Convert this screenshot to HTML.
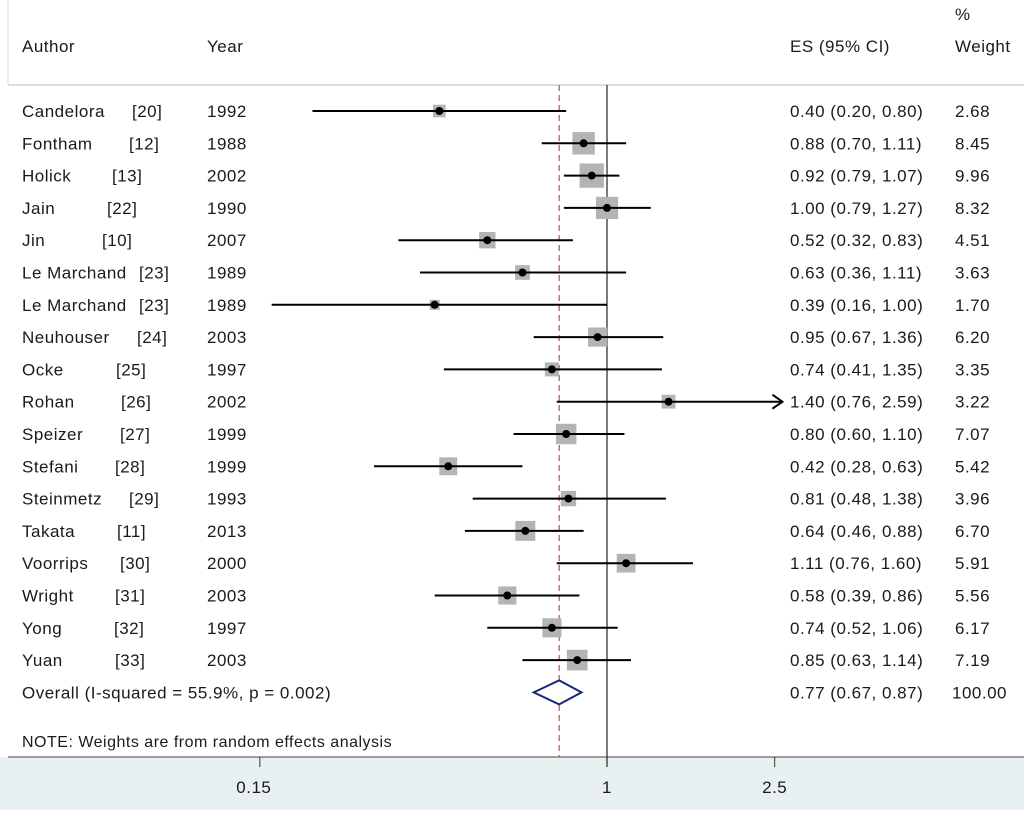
<!DOCTYPE html>
<html><head><meta charset="utf-8"><style>
body{margin:0;background:#fff;font-family:"Liberation Sans",Arial,sans-serif;}
svg text{font-family:"Liberation Sans",Arial,sans-serif;fill:#1a1a1a;letter-spacing:0.5px;}
</style></head><body>
<svg id="chart" width="1024" height="810" xmlns="http://www.w3.org/2000/svg">
<rect x="0" y="757" width="1024" height="53" fill="#e8f0f2"/>
<line x1="8" y1="85" x2="1024" y2="85" stroke="#bbb" stroke-width="1"/>
<line x1="8" y1="757" x2="1024" y2="757" stroke="#444" stroke-width="1"/>
<line x1="8" y1="0" x2="8" y2="85" stroke="#ddd" stroke-width="1"/>
<text x="22" y="52" font-size="17">Author</text>
<text x="207" y="52" font-size="17">Year</text>
<text x="790" y="52" font-size="17">ES (95% CI)</text>
<text x="955" y="20" font-size="17">%</text>
<text x="955" y="52" font-size="17">Weight</text>
<g id="marks"></g>
<text x="22" y="747" font-size="16">NOTE: Weights are from random effects analysis</text>
</svg>
<script>
const authors=["Candelora","Fontham","Holick","Jain","Jin","Le Marchand","Le Marchand","Neuhouser","Ocke","Rohan","Speizer","Stefani","Steinmetz","Takata","Voorrips","Wright","Yong","Yuan"];
const refs=["[20]","[12]","[13]","[22]","[10]","[23]","[23]","[24]","[25]","[26]","[27]","[28]","[29]","[11]","[30]","[31]","[32]","[33]"];
const refX=[132,129,112,107,102,139,139,137,116,121,120,115,129,117,120,115,114,115];
const years=[1992,1988,2002,1990,2007,1989,1989,2003,1997,2002,1999,1999,1993,2013,2000,2003,1997,2003];
const es=[0.40,0.88,0.92,1.00,0.52,0.63,0.39,0.95,0.74,1.40,0.80,0.42,0.81,0.64,1.11,0.58,0.74,0.85];
const lo=[0.20,0.70,0.79,0.79,0.32,0.36,0.16,0.67,0.41,0.76,0.60,0.28,0.48,0.46,0.76,0.39,0.52,0.63];
const hi=[0.80,1.11,1.07,1.27,0.83,1.11,1.00,1.36,1.35,2.59,1.10,0.63,1.38,0.88,1.60,0.86,1.06,1.14];
const weights=[2.68,8.45,9.96,8.32,4.51,3.63,1.70,6.20,3.35,3.22,7.07,5.42,3.96,6.70,5.91,5.56,6.17,7.19];
const overall=[0.77,0.67,0.87];
const ticks=[0.15,1,2.5];
const clipMax=2.3;
const NS="http://www.w3.org/2000/svg";
const g=document.getElementById('marks');
const X=v=>607+183*Math.log(v);
const Y=i=>111+32.3*i;
function mk(tag,a,parent){const e=document.createElementNS(NS,tag);for(const k in a)e.setAttribute(k,a[k]);(parent||g).appendChild(e);return e;}
function fmt(v){return v.toFixed(2);}
let e=mk('line',{x1:X(1),y1:85,x2:X(1),y2:767,stroke:'#333','stroke-width':1.3});


e=mk('line',{x1:X(overall[0]),y1:85,x2:X(overall[0]),y2:757,stroke:'#b0505a','stroke-width':1.2,'stroke-dasharray':'6,4'});


for(let i=0;i<es.length;i++){
  const y=Y(i);
  let t=mk('text',{x:22,y:y+6,'font-size':17});t.textContent=authors[i];
  
  
  t=mk('text',{x:refX[i],y:y+6,'font-size':17});t.textContent=refs[i];
  
  
  t=mk('text',{x:207,y:y+6,'font-size':17});t.textContent=years[i];
  
  
  t=mk('text',{x:790,y:y+6,'font-size':17});t.textContent=fmt(es[i])+" ("+fmt(lo[i])+", "+fmt(hi[i])+")";
  
  
  t=mk('text',{x:955,y:y+6,'font-size':17});t.textContent=weights[i].toFixed(2);
  
  
  const s=7.7*Math.sqrt(weights[i]);
  let b=mk('rect',{x:X(es[i])-s/2,y:y-s/2,width:s,height:s,fill:'#b4b4b4'});
  
  
  const clipped=hi[i]>clipMax;
  const x2=clipped?X(clipMax)+23:X(hi[i]);
  let l=mk('line',{x1:X(lo[i]),y1:y,x2:x2,y2:y,stroke:'#000','stroke-width':2});
  
  
  if(clipped){
    let a=mk('polyline',{points:(x2-10)+","+(y-7)+" "+x2+","+y+" "+(x2-10)+","+(y+7),fill:'none',stroke:'#000','stroke-width':2});
    
    
  }
  let d=mk('circle',{cx:X(es[i]),cy:y,r:4,fill:'#000'});
  
  
}
const oy=Y(18);
let t=mk('text',{x:22,y:oy+6,'font-size':17});t.textContent="Overall  (I-squared = 55.9%, p = 0.002)";


t=mk('text',{x:790,y:oy+6,'font-size':17});t.textContent=fmt(overall[0])+" ("+fmt(overall[1])+", "+fmt(overall[2])+")";


t=mk('text',{x:952,y:oy+6,'font-size':17});t.textContent="100.00";


let dm=mk('polygon',{points:X(overall[1])+","+oy+" "+X(overall[0])+","+(oy-12)+" "+X(overall[2])+","+oy+" "+X(overall[0])+","+(oy+12),fill:'#fff',stroke:'#1a237e','stroke-width':2});


for(const v of ticks){
  let tl=mk('line',{x1:X(v),y1:757,x2:X(v),y2:767,stroke:'#333','stroke-width':1});
  
  
  let tx=mk('text',{x:X(v)-(v===0.15?6:0),y:793,'font-size':17,'text-anchor':'middle'});tx.textContent=String(v);
  
  
}
</script>
</body></html>
